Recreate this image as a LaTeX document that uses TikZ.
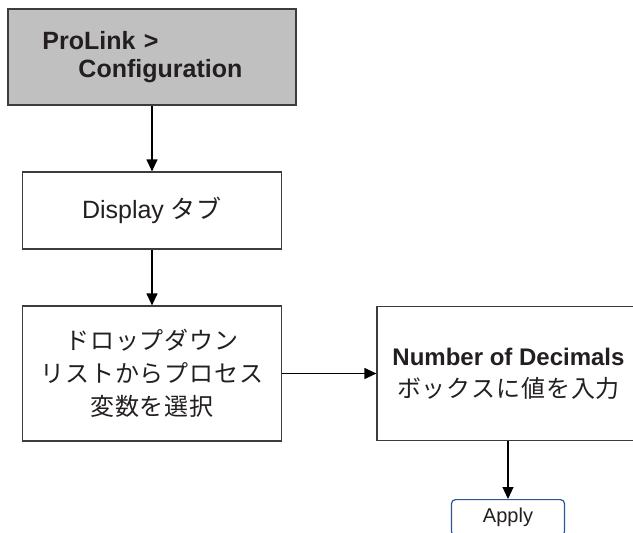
\documentclass[tikz,border=0pt]{standalone}
\usepackage{fontspec}
\setmainfont{Liberation Sans}
\newfontfamily\jp[LetterSpace=4]{Noto Sans CJK JP}
\usetikzlibrary{arrows.meta}
\definecolor{boxgray}{HTML}{C0C0C0}
\definecolor{edge}{HTML}{3C3C3C}
\definecolor{ink}{HTML}{231F20}
\definecolor{btnblue}{HTML}{2B5797}

\begin{document}
\begin{tikzpicture}[x=1pt,y=-1pt,
  stepbox/.style={draw=edge,line width=1.2pt,text=ink,inner sep=0pt,align=center},
  flow/.style={-{Triangle[length=12pt,width=11pt]},line width=1.2pt}]
\useasboundingbox (0,0) rectangle (633,533);
\clip (0,0) rectangle (633,533);
\node[stepbox,fill=boxgray,minimum width=288pt,minimum height=96pt,text width=253pt,align=left,
  font=\bfseries\fontsize{25}{28}\selectfont] (config) at (152,57)
  {\hspace*{17pt}ProLink >\\\hspace*{53pt}Configuration};
\node[stepbox,minimum width=259pt,minimum height=77pt,font=\fontsize{25}{28}\selectfont] (tab) at (152,210.5) {Display {\jp タブ}};
\node[stepbox,minimum width=259pt,minimum height=135pt,font=\jp\fontsize{24}{33}\selectfont] (select) at (152,373.5)
  {ドロップダウン\\リストからプロセス\\変数を選択};
\node[stepbox,minimum width=263pt,minimum height=134pt,font=\fontsize{24}{32}\selectfont] (decimals) at (508.5,373.5)
  {\textbf{Number of Decimals}\\{\jp ボックスに値を入力}};
\node[draw=btnblue,line width=1.2pt,rounded corners=4pt,minimum width=113pt,minimum height=36pt,
  text=ink,font=\fontsize{20}{24}\selectfont,anchor=north] (apply) at (508,499) {Apply};
\draw[flow] (config) -- (tab);
\draw[flow] (tab) -- (select);
\draw[flow] (select) -- (decimals);
\draw[flow] (decimals.south -| apply.north) -- (apply);
\end{tikzpicture}
\end{document}
